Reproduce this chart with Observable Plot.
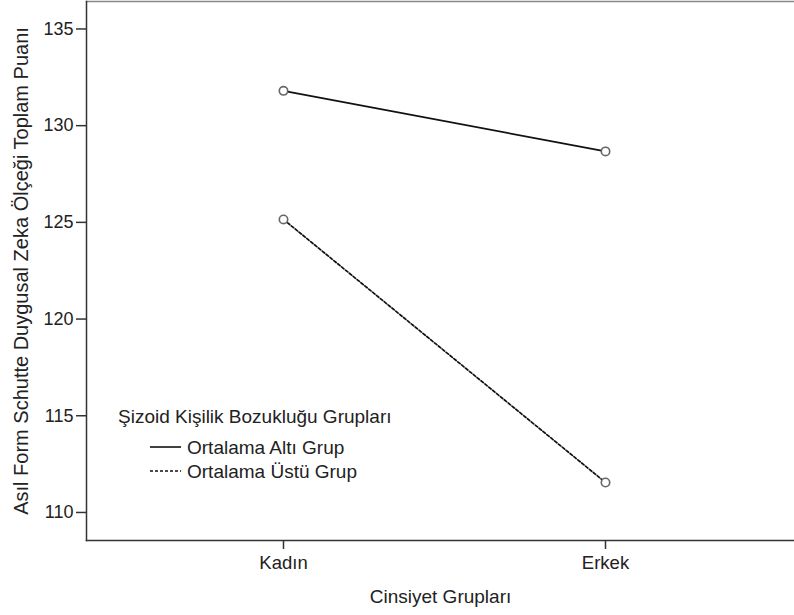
<!DOCTYPE html>
<html>
<head>
<meta charset="utf-8">
<script src="https://cdn.jsdelivr.net/npm/d3@7"></script>
<script src="https://cdn.jsdelivr.net/npm/@observablehq/plot@0.6"></script>
<style>
  html, body { margin: 0; padding: 0; background: #fff; }
  #chart { position: relative; width: 794px; height: 615px; }
</style>
</head>
<body>
<div id="chart"></div>
<script>
// ---- data ----
const genders = ["Kadın", "Erkek"];
const groups = ["Ortalama Altı Grup", "Ortalama Üstü Grup"];
const altiValues = [131.8, 128.67];
const ustuValues = [125.15, 111.55];
const yTicks = [110, 115, 120, 125, 130, 135];
const yDomain = [108.55, 136.42];
const xTitle = "Cinsiyet Grupları";
const yTitle = "Asıl Form Schutte Duygusal Zeka Ölçeği Toplam Puanı";
const legendTitle = "Şizoid Kişilik Bozukluğu Grupları";

const rows = [];
genders.forEach((g, i) => {
  rows.push({ gender: g, group: groups[0], value: altiValues[i] });
  rows.push({ gender: g, group: groups[1], value: ustuValues[i] });
});

const FONT = "'Liberation Sans', Arial, sans-serif";
const dashes = { [groups[0]]: null, [groups[1]]: "3,2" };

const plot = Plot.plot({
  width: 794,
  height: 615,
  marginLeft: 86,
  marginRight: 0,
  marginTop: 1,
  marginBottom: 75,
  style: { fontFamily: FONT, fontSize: "18px", color: "#222", background: "#fff" },
  x: { type: "point", domain: genders, range: [283, 605], padding: 0 },
  y: { domain: yDomain },
  marks: [
    Plot.frame({ anchor: "top", stroke: "#888", strokeWidth: 1.5 }),
    Plot.frame({ anchor: "left", stroke: "#333", strokeWidth: 1.5 }),
    Plot.frame({ anchor: "bottom", stroke: "#333", strokeWidth: 1.5 }),
    Plot.axisY({ ticks: yTicks, tickSize: 10, tickPadding: 3, label: null, stroke: "#333", strokeWidth: 1.5, fill: "#222" }),
    Plot.axisX({ tickSize: 9, tickPadding: 6, label: null, stroke: "#333", strokeWidth: 1.5, fill: "#222", fontSize: 18.5 }),
    ...groups.map(gr =>
      Plot.line(rows.filter(d => d.group === gr), {
        x: "gender", y: "value", stroke: "#111", strokeWidth: 1.7,
        strokeDasharray: dashes[gr]
      })
    ),
    Plot.dot(rows, { x: "gender", y: "value", r: 4.2, stroke: "#666", strokeWidth: 1.6, fill: "#fff" }),
    Plot.text([xTitle], { frameAnchor: "bottom", dy: 62, fill: "#222", textAnchor: "middle", fontSize: 19 }),
    Plot.text([yTitle], { frameAnchor: "left", dx: -65, rotate: -90, fill: "#222", textAnchor: "middle", fontSize: 20 })
  ]
});

document.getElementById("chart").appendChild(plot);

// ---- legend (inside plot area) ----
const svg = d3.select(plot);
const lg = svg.append("g")
  .attr("font-family", FONT).attr("font-size", 19).attr("fill", "#222")
  .attr("text-anchor", "start");
lg.append("text").attr("x", 118).attr("y", 423).attr("text-anchor", "start").text(legendTitle);
groups.forEach((gr, i) => {
  const cy = 447 + i * 24;
  lg.append("line")
    .attr("x1", 150).attr("x2", 181).attr("y1", cy).attr("y2", cy)
    .attr("stroke", "#111").attr("stroke-width", 1.6)
    .attr("stroke-dasharray", dashes[gr]);
  lg.append("text").attr("x", 187).attr("y", cy + 7).attr("text-anchor", "start").text(gr);
});
</script>
</body>
</html>
